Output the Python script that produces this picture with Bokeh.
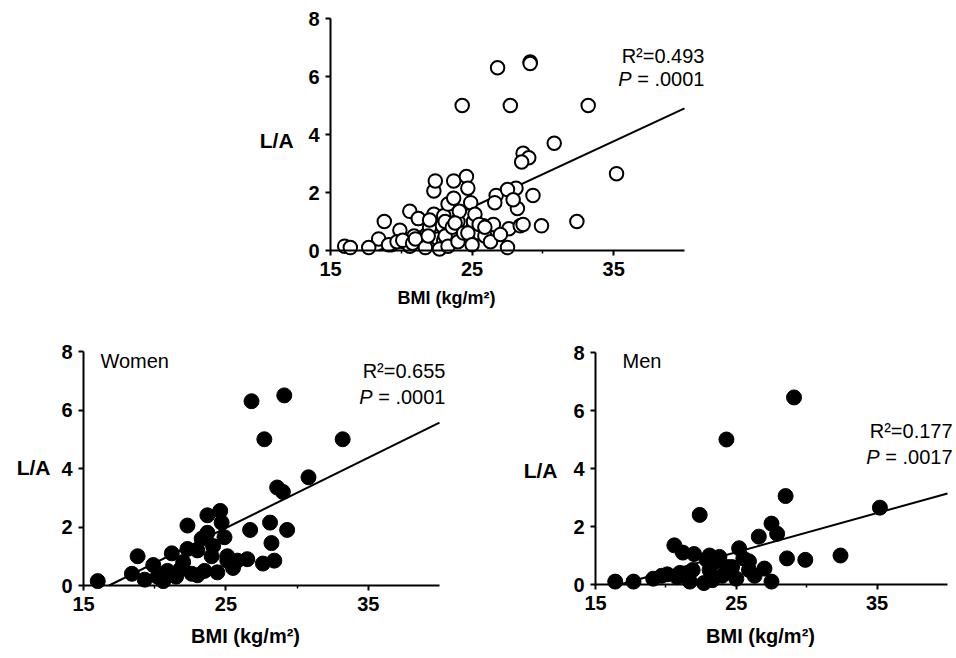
from bokeh.plotting import figure
from bokeh.models import Range1d, FixedTicker, Label, LinearAxis
from bokeh.embed import file_html
from bokeh.resources import INLINE

FONT = "Liberation Sans"

# ---- data ----
women_bmi = [16.0, 18.4, 18.8, 19.3, 19.9, 20.2, 20.6, 20.9, 21.2, 21.5, 21.8, 22.0, 22.3, 22.3, 22.6,
             23.0, 23.0, 23.3, 23.5, 23.7, 23.7, 24.0, 24.1, 24.4, 24.6, 24.7, 24.9, 25.1, 25.1, 25.5,
             25.8, 26.5, 26.7, 26.8, 27.6, 27.7, 28.1, 28.2, 28.4, 28.6, 29.0, 29.1, 29.3, 30.8, 33.2]
women_la = [0.15, 0.4, 1.0, 0.2, 0.7, 0.3, 0.15, 0.5, 1.1, 0.3, 0.55, 0.8, 2.05, 1.25, 0.4,
            0.35, 1.2, 1.6, 0.5, 1.8, 2.4, 1.0, 1.35, 0.45, 2.55, 2.15, 1.65, 0.85, 1.0, 0.6,
            0.85, 0.9, 1.9, 6.3, 0.75, 5.0, 2.15, 1.45, 0.85, 3.35, 3.2, 6.5, 1.9, 3.7, 5.0]
men_bmi = [16.4, 17.7, 19.1, 19.7, 20.1, 20.6, 20.8, 21.0, 21.2, 21.7, 21.9, 22.0, 22.4, 22.7,
           22.9, 23.1, 23.1, 23.3, 23.6, 23.8, 24.0, 24.3, 24.4, 24.7, 25.0, 25.2, 25.5, 25.9,
           25.9, 26.3, 26.6, 27.0, 27.5, 27.5, 27.9, 28.5, 28.6, 29.1, 29.9, 32.4, 35.2]
men_la = [0.1, 0.1, 0.2, 0.3, 0.35, 1.35, 0.25, 0.4, 1.1, 0.1, 0.5, 1.05, 2.4, 0.05,
          0.85, 0.5, 1.0, 0.15, 0.8, 0.95, 0.3, 5.0, 0.6, 0.6, 0.2, 1.25, 0.9, 0.5,
          0.8, 0.3, 1.65, 0.55, 2.1, 0.1, 1.75, 3.05, 0.9, 6.45, 0.85, 1.0, 2.65]
all_bmi = women_bmi + men_bmi
all_la = women_la + men_la

fit_slope = [0.227, 0.240, 0.135]
fit_intercept = [-4.18, -4.03, -2.26]
r2_text = ["R\u00b2=0.493", "R\u00b2=0.655", "R\u00b2=0.177"]
p_text = ["= .0001", "= .0001", "= .0017"]
group_text = [None, "Women", "Men"]
x_ticks = [15, 25, 35]
x_minor = [20, 30]
y_ticks = [0, 2, 4, 6, 8]
x_label = "BMI (kg/m\u00b2)"
y_label = "L/A"

W, H = 954, 656

p = figure(width=W, height=H, x_range=Range1d(0, W), y_range=Range1d(0, H),
           x_axis_location=None, y_axis_location=None, title=None,
           output_backend="svg", toolbar_location=None, min_border=0)
p.outline_line_color = None
p.background_fill_color = "white"
p.border_fill_color = "white"
p.grid.visible = False


def add_panel(name, xs, ys, filled, k, px15, px40, py0, py8,
              ylab, xlab, xlab_size, r2_x, r2_y, p_y, group_pos):
    sx = (px40 - px15) / 25.0
    sy = (py0 - py8) / 8.0
    p.extra_x_ranges[name] = Range1d(15 - px15 / sx, 15 + (W - px15) / sx)
    p.extra_y_ranges[name] = Range1d((py0 - H) / sy, py0 / sy)
    rn = dict(x_range_name=name, y_range_name=name)

    xa = LinearAxis(fixed_location=0, bounds=(15, 40),
                    ticker=FixedTicker(ticks=x_ticks, minor_ticks=x_minor), **rn)
    ya = LinearAxis(fixed_location=15, bounds=(0, 8),
                    ticker=FixedTicker(ticks=y_ticks, minor_ticks=[]), **rn)
    for ax in (xa, ya):
        ax.axis_line_color = "black"
        ax.axis_line_width = 2
        ax.major_tick_line_color = "black"
        ax.major_tick_line_width = 2
        ax.major_tick_in = 0
        ax.major_tick_out = 5
        ax.minor_tick_line_color = "black"
        ax.minor_tick_line_width = 1.5
        ax.minor_tick_in = 0
        ax.minor_tick_out = 3
        ax.major_label_text_font = FONT
        ax.major_label_text_font_style = "bold"
        ax.major_label_text_font_size = "20px"
        ax.major_label_text_color = "black"
    xa.major_label_standoff = 6
    ya.major_label_standoff = 6
    p.add_layout(xa, "below")
    p.add_layout(ya, "left")

    # regression line from slope / intercept
    m, b = fit_slope[k], fit_intercept[k]
    x0 = -b / m
    p.line([x0, 40], [m * x0 + b, m * 40 + b], line_color="black", line_width=2, **rn)

    if filled:
        p.scatter(xs, ys, size=15, fill_color="black", line_color="black", line_width=1, **rn)
    else:
        p.scatter(xs, ys, size=13.5, fill_color="white", line_color="black", line_width=2, **rn)

    p.add_layout(Label(x=ylab[0], y=ylab[1], text=y_label, text_font=FONT,
                       text_font_style="bold", text_font_size="21px", text_align="right",
                       text_baseline="middle", text_color="black", **rn))
    p.add_layout(Label(x=xlab[0], y=xlab[1], text=x_label, text_font=FONT,
                       text_font_style="bold", text_font_size=xlab_size, text_align="center",
                       text_baseline="middle", text_color="black", **rn))
    p.add_layout(Label(x=r2_x, y=r2_y, text=r2_text[k], text_font=FONT,
                       text_font_size="20px", text_align="right",
                       text_baseline="alphabetic", text_color="black", **rn))
    p.add_layout(Label(x=r2_x, y=p_y, text=p_text[k], text_font=FONT,
                       text_font_size="20px", text_align="right",
                       text_baseline="alphabetic", text_color="black", **rn))
    p.add_layout(Label(x=r2_x, y=p_y, x_offset=-73, text="P", text_font=FONT,
                       text_font_size="20px", text_font_style="italic", text_align="right",
                       text_baseline="alphabetic", text_color="black", **rn))
    if group_text[k]:
        p.add_layout(Label(x=group_pos[0], y=group_pos[1], text=group_text[k], text_font=FONT,
                           text_font_size="20px", text_align="left",
                           text_baseline="alphabetic", text_color="black", **rn))


add_panel("all", all_bmi, all_la, False, 0, px15=330, px40=684, py0=250, py8=18,
          ylab=(12.39, 3.79), xlab=(23.19, -1.655), xlab_size="18px",
          r2_x=41.41, r2_y=6.72, p_y=5.93, group_pos=None)
add_panel("women", women_bmi, women_la, True, 1, px15=83, px40=439, py0=585, py8=351,
          ylab=(12.68, 4.03), xlab=(26.38, -1.71), xlab_size="20px",
          r2_x=40.42, r2_y=7.35, p_y=6.43, group_pos=(16.19, 7.69))
add_panel("men", men_bmi, men_la, True, 2, px15=595, px40=947, py0=584, py8=352,
          ylab=(12.30, 3.93), xlab=(26.72, -1.76), xlab_size="20px",
          r2_x=40.36, r2_y=5.31, p_y=4.38, group_pos=(16.92, 7.72))

open("out.html", "w").write(file_html(p, INLINE))
